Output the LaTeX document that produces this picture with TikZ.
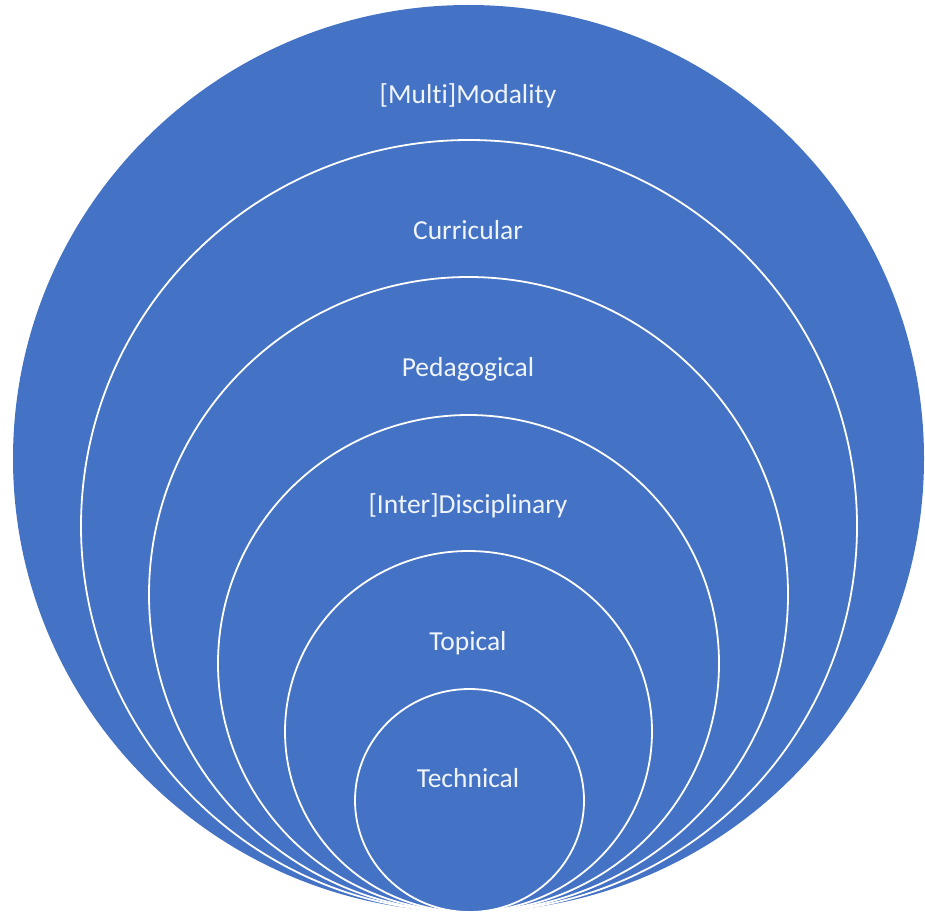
\documentclass[tikz,border=0pt]{standalone}
\usepackage{fontspec}
\setmainfont{Carlito}[RawFeature={-liga}]
\definecolor{offblue}{HTML}{4472C4}
\definecolor{labelwhite}{HTML}{F0F4FB}
\begin{document}
\begin{tikzpicture}[x=1pt,y=-1pt,
  ring/.style={fill=offblue,draw=white,line width=1.8pt},
  lbl/.style={text=labelwhite,anchor=base,inner sep=0pt,font=\fontsize{27.5}{30}\selectfont}]
\useasboundingbox (0,0) rectangle (925,915);
\fill[offblue] (468.5,458.5) ellipse [x radius=455.5, y radius=453.5];
\draw[ring] (469,526) ellipse [x radius=388, y radius=386];
\draw[ring] (468.5,594.5) ellipse [x radius=319.5, y radius=317.5];
\draw[ring] (468.5,663.5) ellipse [x radius=250.5, y radius=248.5];
\draw[ring] (468.5,731.5) ellipse [x radius=183.5, y radius=180.5];
\draw[ring] (469.5,800.5) ellipse [x radius=114.5, y radius=111.5];
\node[lbl] (multi) at (468,103) {[Multi]Modality};
\node[lbl] (curr) at (468,239) {Curricular};
\node[lbl] (peda) at (468,376) {Pedagogical};
\node[lbl] (inter) at (468,513) {[Inter]Disciplinary};
\node[lbl] (topi) at (468,650) {Topical};
\node[lbl] (tech) at (468,787) {Technical};
\end{tikzpicture}
\end{document}
